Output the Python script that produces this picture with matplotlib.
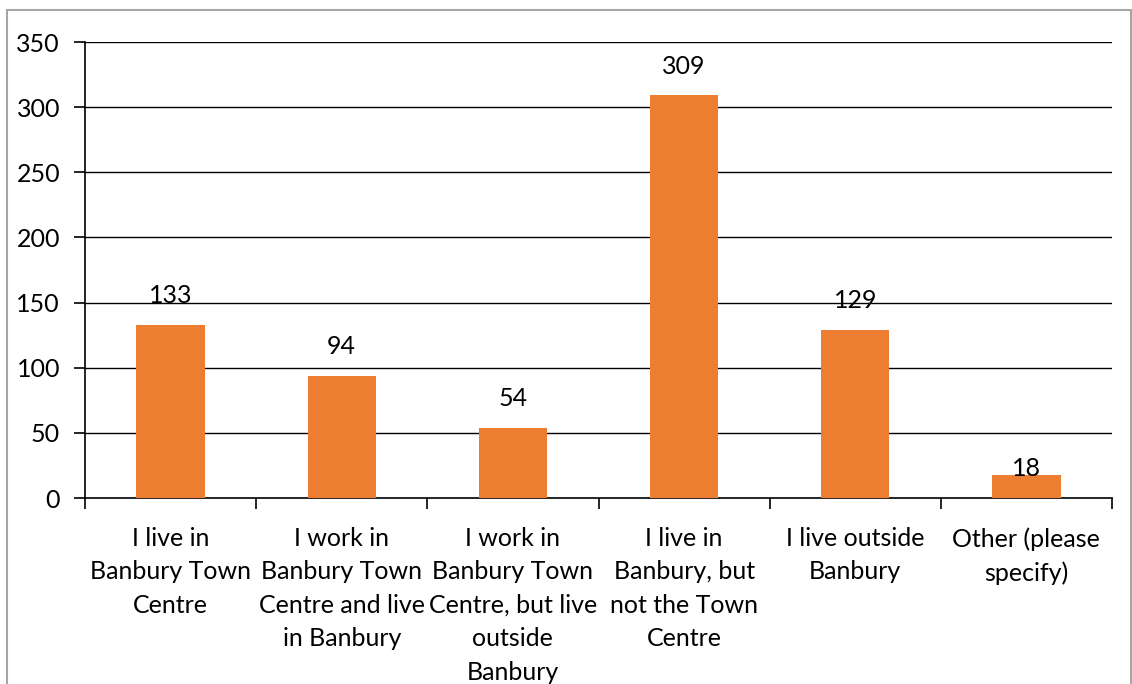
import matplotlib
matplotlib.use("Agg")
import matplotlib.pyplot as plt
from matplotlib.patches import Rectangle

categories = [
    "I live in\nBanbury Town\nCentre",
    "I work in\nBanbury Town\nCentre and live\nin Banbury",
    "I work in\nBanbury Town\nCentre, but live\noutside\nBanbury",
    "I live in\nBanbury, but\nnot the Town\nCentre",
    "I live outside\nBanbury",
    "Other (please\nspecify)",
]
values = [133, 94, 54, 309, 129, 18]
yticks = [0, 50, 100, 150, 200, 250, 300, 350]

plt.rcParams['font.family'] = ['Lato', 'DejaVu Sans']
FS = 18

fig = plt.figure(figsize=(11.32, 6.84), dpi=100)
W, H = 1132, 684
ax = fig.add_axes([85 / W, 1 - 498 / H, (1112 - 85) / W, (498 - 42) / H])

x = list(range(len(values)))
ax.bar(x, values, width=0.40, color="#ED7D31", zorder=3)
ax.set_xlim(-0.5, len(values) - 0.5)
ax.set_ylim(0, 350)
ax.set_yticks(yticks)
ax.set_yticklabels([str(t) for t in yticks], fontsize=FS)
for t in yticks[1:]:
    ax.axhline(t, color="black", lw=1.0, zorder=1)

ax.set_xticks([i - 0.5 for i in range(len(values) + 1)])
ax.set_xticklabels([])
ax.tick_params(axis='x', direction='out', length=8, width=1.2, color='black')
ax.tick_params(axis='y', direction='out', length=8, width=1.2, color='black', pad=10)
for i, lab in enumerate(categories):
    ax.annotate(lab, xy=(i, 0), xycoords='data', xytext=(0, -29), textcoords='offset pixels',
                ha='center', va='top', fontsize=FS, linespacing=1.55)

for s in ['top', 'right']:
    ax.spines[s].set_visible(False)
for s in ['left', 'bottom']:
    ax.spines[s].set_linewidth(1.2)

for i, v in enumerate(values):
    off = 29 if v > 30 else 6
    ax.annotate(str(v), xy=(i, v), xytext=(0, off), textcoords='offset pixels',
                ha='center', va='center', fontsize=FS, zorder=5)

fig.patches.append(Rectangle((7 / W, -0.1), (1131 - 7) / W, 1.1 - 10 / H,
                             transform=fig.transFigure, fill=False,
                             edgecolor='#A6A6A6', lw=1.5))

fig.savefig("out.png", dpi=100)
